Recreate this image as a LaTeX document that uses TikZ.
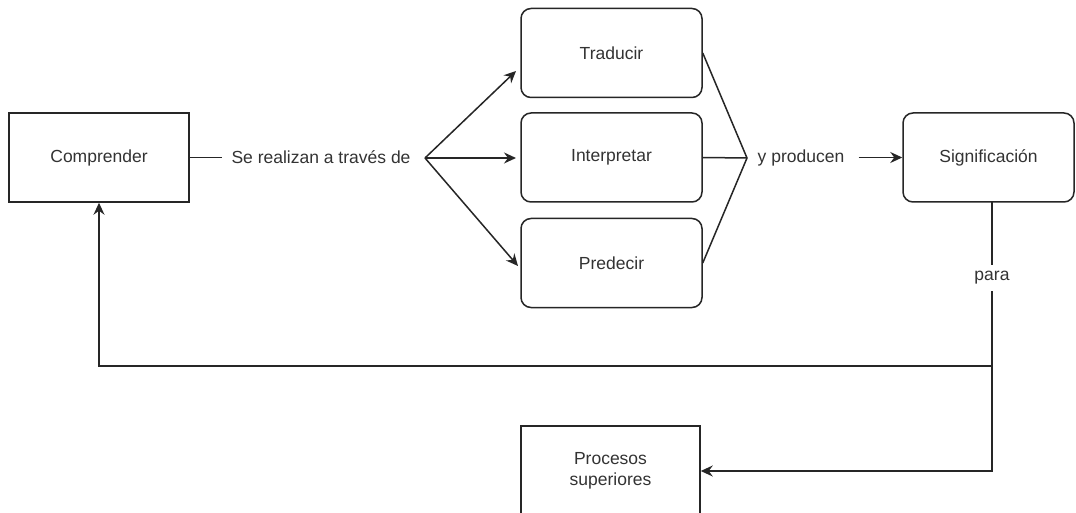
\documentclass[tikz,border=0pt]{standalone}
\usepackage{fontspec}
\setmainfont{Liberation Sans}
\usetikzlibrary{arrows.meta}
\begin{document}
\begin{tikzpicture}[x=1pt,y=1pt,
  txt/.style={font=\fontsize{17.5}{21}\selectfont, text=black!80},
  box/.style={txt, draw=black!85, line width=1.5pt, minimum width=180pt, minimum height=89pt, inner sep=0pt, align=center},
  rbox/.style={box, rounded corners=10pt},
  lbl/.style={txt, inner ysep=3pt},
  line/.style={draw=black!85, line width=1.5pt},
  arr/.style={line, -{Stealth[length=12pt,width=11pt,inset=4pt]}}]
\useasboundingbox (0,0) rectangle (1076,-513);
\fill[white] (0,0) rectangle (1076,-513);

% nodes
\node[box] (comp) at (99,-157.5) {Comprender};
\node[rbox, minimum width=181pt] (trad) at (611.5,-53) {Traducir};
\node[rbox, minimum width=181pt] (interp) at (611.5,-157.5) {Interpretar};
\node[rbox, minimum width=181pt] (pred) at (611.5,-263) {Predecir};
\node[rbox, minimum width=171pt] (sig) at (988.5,-157.5) {Significación};
\node[box, minimum width=179pt, minimum height=90pt] (proc) at (610.5,-471) {Procesos\\superiores};

\node[lbl, inner xsep=9pt] (lab1) at (321,-157.5) {Se realizan a través de};
\node[lbl, inner xsep=14pt] (lab2) at (801,-157.5) {y producen};

% coordinates
\coordinate (f1) at (425,-158);
\coordinate (f2) at (747,-158);
\coordinate (t1) at (516,-71);
\coordinate (t2) at (516,-158);
\coordinate (t3) at (518,-266);
\coordinate (j1) at (992,-366);
\coordinate (s1) at (992,-202);
\coordinate (c1) at (992,-471);

% connectors
\draw[line] (comp.east) -- (lab1.west);
\draw[arr] (f1) -- (t1);
\draw[arr] (f1) -- (t2);
\draw[arr] (f1) -- (t3);
\draw[line] (trad.east) -- (f2);
\draw[line] (interp.east) -- (f2);
\draw[line] (pred.east) -- (f2);
\draw[arr] (lab2.east) -- (sig.west);
\draw[line] (s1) -- (j1);
\draw[arr] (j1) -| (comp.south);
\draw[arr] (j1) -- (c1) -- (proc.east);
\node[lbl, fill=white, inner sep=6pt] (para) at (992,-278) {para};
\end{tikzpicture}
\end{document}
